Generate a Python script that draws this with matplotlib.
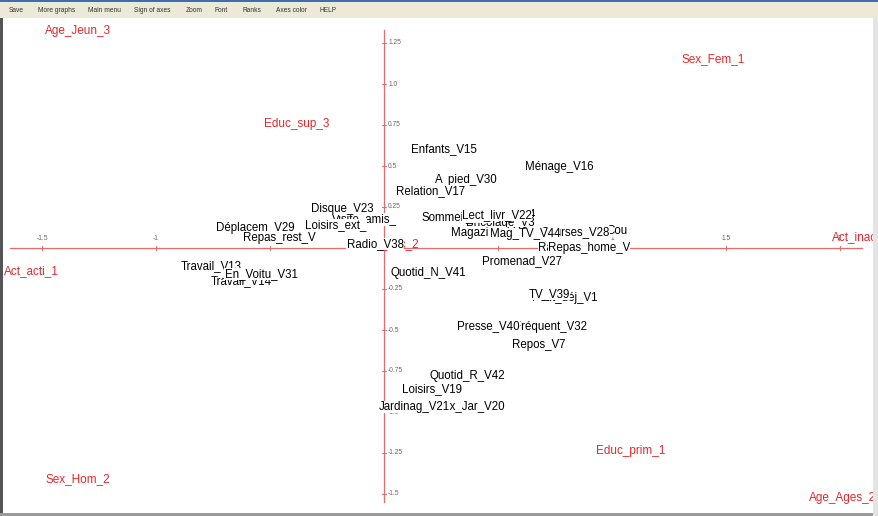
import matplotlib
matplotlib.use('Agg')
import matplotlib.pyplot as plt
from matplotlib.patches import Rectangle

plt.rcParams['font.family'] = ['Liberation Sans', 'DejaVu Sans']

# menu bar of the program window
menu_items = ['Save', 'More graphs', 'Main menu', 'Sign of axes', 'Zoom', 'Font',
              'Ranks', 'Axes color', 'HELP']
menu_x = [9, 38, 88, 134, 186, 215, 243, 276, 320]

# supplementary (red) modalities: name, axis 1, axis 2
sup_names = ['Educ_sec_2', 'Age_Jeun_3', 'Sex_Fem_1', 'Educ_sup_3', 'Act_acti_1',
             'Educ_prim_1', 'Sex_Hom_2', 'Age_Ages_2']
sup_x = [0.009, -1.342, 1.443, -0.382, -1.548, 1.083, -1.342, 2.009]
sup_y = [0.024, 1.323, 1.152, 0.756, -0.140, -1.238, -1.409, -1.524]
# the one cut by the right border
edge_name, edge_x, edge_y = 'Act_inac_2', 1.965, 0.067

# active variables (black), in drawing order
var_names = ['Enfants_V15', 'Ménage_V16', 'A_pied_V30', 'Relation_V17',
             'Visite_amis_', 'Disque_V23', 'Loisirs_ext_', 'Déplacem_V29',
             'Repas_rest_V', 'Radio_V38', 'Travail_V14', 'Travail_V13',
             'En_Voitu_V31', 'Lect_jour_V24', 'Bricolage_V3', 'Sommeil_V26',
             'Lect_livr_V22', 'Magazine_V43', 'Cou', 'Courses_V28', 'Mag_TV_V44',
             'Rangement_V', 'Repas_home_V', 'Promenad_V27', 'Quotid_N_V41',
             'Petit_déj_V1', 'TV_V39', 'Fréquent_V32', 'Presse_V40', 'Repos_V7',
             'Quotid_R_V42', 'Loisirs_V19', 'Travx_Jar_V20', 'Jardinag_V21']
var_x = [0.263, 0.768, 0.360, 0.206,
         -0.088, -0.184, -0.211, -0.566,
         -0.461, -0.039, -0.627, -0.759,
         -0.539, 0.500, 0.509, 0.320,
         0.496, 0.461, 1.022, 0.838, 0.618,
         0.838, 0.899, 0.605, 0.193,
         0.794, 0.724, 0.732, 0.456, 0.680,
         0.364, 0.211, 0.364, 0.132]
var_y = [0.604, 0.494, 0.415, 0.348,
         0.175, 0.238, 0.140, 0.122,
         0.061, 0.024, -0.201, -0.110,
         -0.159, 0.201, 0.150, 0.189,
         0.201, 0.091, 0.104, 0.098, 0.085,
         0.0, 0.0, -0.079, -0.152,
         -0.305, -0.280, -0.482, -0.476, -0.591,
         -0.780, -0.860, -0.963, -0.970]

xticks = [-1.5, -1.0, -0.5, 0.5, 1.0, 1.5, 2.0]
xtick_labels = ['-1.5', '-1', '-0.5', '0.5', '1', '1.5', '2']
yticks = [1.25, 1.0, 0.75, 0.5, 0.25, -0.25, -0.5, -0.75, -1.0, -1.25, -1.5]
ytick_labels = ['1.25', '1.0', '0.75', '0.5', '0.25', '-0.25', '-0.5', '-0.75',
                '-1.0', '-1.25', '-1.5']

W, H = 879, 516
fig = plt.figure(figsize=(W / 100, H / 100), dpi=100)
fig.patch.set_facecolor('white')

# window chrome
fig.patches.append(Rectangle((0, 1 - 18 / H), 1, 16 / H, transform=fig.transFigure,
                             facecolor='#ece9d8', edgecolor='none'))
fig.patches.append(Rectangle((0, 1 - 2 / H), 1, 2 / H, transform=fig.transFigure,
                             facecolor='#3d6fb0', edgecolor='none'))
for name, px in zip(menu_items, menu_x):
    fig.text(px / W, 1 - 10 / H, name, fontsize=4.8, color='#333333', va='center')
fig.patches.append(Rectangle((0, 0), 3 / W, 1 - 18 / H, transform=fig.transFigure,
                             facecolor='#555555', edgecolor='none'))
fig.patches.append(Rectangle((0, 0), 1, 3 / H, transform=fig.transFigure,
                             facecolor='#9a9a9a', edgecolor='none'))
fig.patches.append(Rectangle((873 / W, 0), 6 / W, 1 - 18 / H, transform=fig.transFigure,
                             facecolor='#e4e4e4', edgecolor='none'))

ax = fig.add_axes([3 / W, 3 / H, 870 / W, 495 / H])
ax.set_xlim((3 - 384) / 228, (873 - 384) / 228)
ax.set_ylim((248 - 513) / 164, (248 - 18) / 164)
ax.axis('off')

axis_col = '#e86a6a'
ax.plot([-1.640, 2.096], [0, 0], color=axis_col, lw=0.9, zorder=1)
ax.plot([0, 0], [-1.549, 1.329], color=axis_col, lw=0.9, zorder=1)

for t, lab in zip(xticks, xtick_labels):
    ax.plot([t, t], [-0.012, 0.012], color=axis_col, lw=0.7, zorder=1)
    ax.text(t, 0.035, lab, fontsize=4.8, color='#666666', ha='center', va='bottom')
for t, lab in zip(yticks, ytick_labels):
    ax.plot([-0.01, 0.01], [t, t], color=axis_col, lw=0.7, zorder=1)
    ax.text(0.018, t, lab, fontsize=4.8, color='#666666', ha='left', va='center')

red = '#e8262a'
for name, x, y in zip(sup_names, sup_x, sup_y):
    ax.text(x, y, name, fontsize=8.5, color=red, ha='center', va='center', zorder=2)
ax.text(edge_x, edge_y, edge_name, fontsize=8.5, color=red, ha='left', va='center',
        zorder=2, clip_on=True)

for name, x, y in zip(var_names, var_x, var_y):
    ax.text(x, y, name, fontsize=8.3, color='black', ha='center', va='center', zorder=3,
            bbox=dict(facecolor='white', edgecolor='none', pad=0.2))

fig.savefig('out.png', dpi=100)
